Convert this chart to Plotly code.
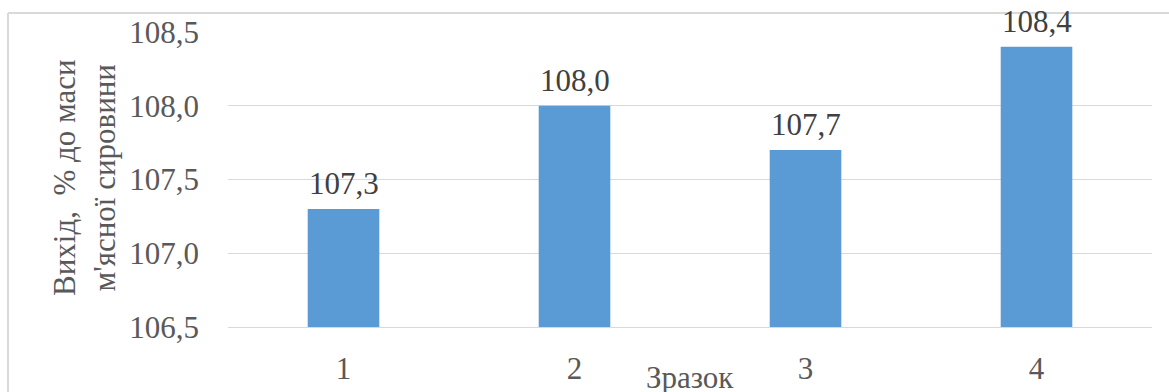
import plotly.graph_objects as go

# Yield of product by sample
samples = ["1", "2", "3", "4"]
yield_pct = [107.3, 108.0, 107.7, 108.4]
y_ticks = [106.5, 107.0, 107.5, 108.0, 108.5]
y_tick_labels = ["106,5", "107,0", "107,5", "108,0", "108,5"]
bar_labels = [f"{v:.1f}".replace(".", ",") for v in yield_pct]

FONT = "Liberation Serif"
TEXT = "#595959"
FS = 31

W, H = 1169, 392
L, R, T, B = 228, 17, 32, 65
pw, ph = W - L - R, H - T - B

fig = go.Figure(
    go.Bar(
        x=samples,
        y=yield_pct,
        marker=dict(color="#5B9BD5", line=dict(width=0)),
        width=0.31,
    )
)

# value labels above each bar
label_annotations = [
    dict(
        x=i, y=v, text=t, xref="x", yref="y",
        yanchor="bottom", yshift=6, showarrow=False,
        font=dict(family=FONT, size=FS, color="#404040"),
    )
    for i, (v, t) in enumerate(zip(yield_pct, bar_labels))
]

fig.update_layout(
    template="none",
    width=W,
    height=H,
    margin=dict(l=L, r=R, t=T, b=B),
    paper_bgcolor="white",
    plot_bgcolor="white",
    showlegend=False,
    font=dict(family=FONT, size=FS, color=TEXT),
    xaxis=dict(
        type="category",
        showgrid=False,
        showline=True,
        linecolor="#D9D9D9",
        linewidth=1,
        ticks="",
        tickfont=dict(family=FONT, size=FS, color=TEXT),
        ticklabelstandoff=14,
    ),
    yaxis=dict(
        range=[106.5, 108.5],
        tickvals=y_ticks,
        ticktext=y_tick_labels,
        showgrid=True,
        gridcolor="#D9D9D9",
        gridwidth=1,
        zeroline=False,
        showline=False,
        ticks="",
        tickfont=dict(family=FONT, size=FS, color=TEXT),
        ticklabelstandoff=28,
    ),
    annotations=label_annotations + [
        dict(
            text="Вихід,  % до маси<br>м'ясної сировини",
            textangle=-90,
            xref="paper",
            yref="paper",
            x=(84 - L) / pw,
            y=(H - B - 178) / ph,
            xanchor="center",
            yanchor="middle",
            showarrow=False,
            font=dict(family=FONT, size=FS, color=TEXT),
        ),
        dict(
            text="Зразок",
            xref="paper",
            yref="paper",
            x=0.5,
            y=(H - B - 377) / ph,
            xanchor="center",
            yanchor="middle",
            showarrow=False,
            font=dict(family=FONT, size=FS, color=TEXT),
        ),
    ],
    shapes=[
        # chart frame (top and left edges)
        dict(type="line", xref="paper", yref="paper",
             x0=(8 - L) / pw, x1=(W - L) / pw,
             y0=(H - B - 13) / ph, y1=(H - B - 13) / ph,
             line=dict(color="#D9D9D9", width=2)),
        dict(type="line", xref="paper", yref="paper",
             x0=(8 - L) / pw, x1=(8 - L) / pw,
             y0=(H - B - 13) / ph, y1=-B / ph,
             line=dict(color="#D9D9D9", width=2)),
    ],
)

fig.write_html("out.html")
